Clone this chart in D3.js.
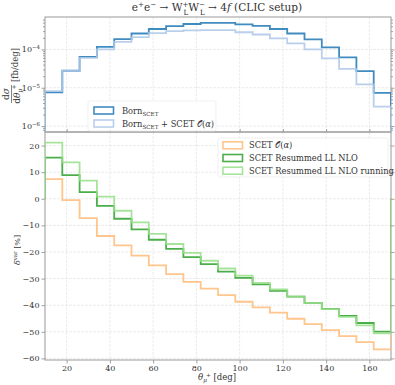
<!DOCTYPE html>
<html>
<head>
<meta charset="utf-8">
<script src="https://cdn.jsdelivr.net/npm/d3@7"></script>
<style>
  body { margin: 0; background: #fff; }
  svg text { font-family: "DejaVu Serif", "Liberation Serif", serif; fill: #333; }
</style>
</head>
<body>
<svg id="chart" width="395" height="385"></svg>
<script>
'use strict';

// bin edges of theta_mu+ [deg]
const edges = [10, 18, 26, 34, 42, 50, 58, 66, 74, 82, 90, 98, 106, 114, 122, 130, 138, 146, 154, 162, 170];

// top panel: d sigma / d theta [fb/deg]
const born = [7.6e-6, 2.77e-5, 6.4e-5, 1.17e-4, 1.85e-4, 2.6e-4, 3.4e-4, 4.05e-4, 4.6e-4, 4.9e-4,
              4.9e-4, 4.5e-4, 4.1e-4, 3.4e-4, 2.6e-4, 1.82e-4, 1.13e-4, 6.2e-5, 2.72e-5, 7.3e-6];
const bornScet = [8.2e-6, 2.75e-5, 6.0e-5, 1.0e-4, 1.58e-4, 2.1e-4, 2.65e-4, 3.0e-4, 3.15e-4, 3.2e-4,
                  3.2e-4, 2.8e-4, 2.45e-4, 1.93e-4, 1.43e-4, 1.0e-4, 5.8e-5, 3.1e-5, 1.22e-5, 3.2e-6];

// bottom panel: delta^var [%]
const scetOa = [7.4, -0.5, -7.3, -14.0, -17.5, -21.4, -25.0, -28.3, -31.2, -33.8,
                -36.2, -38.7, -40.8, -42.8, -45.1, -47.1, -49.4, -51.6, -53.9, -56.6];
const resumLL = [15.5, 8.9, 2.5, -2.7, -7.5, -11.5, -15.4, -18.8, -21.9, -24.6,
                 -27.4, -29.7, -32.2, -34.6, -36.8, -39.1, -41.4, -44.0, -46.7, -49.9];
const resumLLRun = [21.1, 13.7, 6.8, 0.8, -4.5, -8.9, -13.2, -17.0, -20.3, -23.3,
                    -26.2, -28.9, -31.6, -34.1, -36.8, -39.1, -41.5, -44.4, -47.6, -50.6];

const xTicks = [20, 40, 60, 80, 100, 120, 140, 160];
const decadeTicks = [1e-6, 1e-5, 1e-4];
const decadeExps = ['−6', '−5', '−4'];
const deltaTicks = [-60, -50, -40, -30, -20, -10, 0, 10, 20];

const COLORS = {
  born: '#1f77b4',
  bornScet: '#aec7e8',
  scetOa: '#ffbb78',
  resumLL: '#2ca02c',
  resumLLRun: '#98df8a'
};

const svg = d3.select('#chart');
const L = 45, R = 391;
const TOP = { y0: 17, y1: 132 };
const BOT = { y0: 132, y1: 360 };

const x = d3.scaleLinear().domain([10, 170]).range([L, R]);
const yTop = d3.scaleLog().domain([7e-7, 7e-4]).range([TOP.y1, TOP.y0]);
const yBot = d3.scaleLinear().domain([-60.6, 25.1]).range([BOT.y1, BOT.y0]);

const defs = svg.append('defs');
defs.append('clipPath').attr('id', 'clipTop').append('rect')
    .attr('x', L).attr('y', TOP.y0).attr('width', R - L).attr('height', TOP.y1 - TOP.y0);
defs.append('clipPath').attr('id', 'clipBot').append('rect')
    .attr('x', L).attr('y', BOT.y0).attr('width', R - L).attr('height', BOT.y1 - BOT.y0);

function stepPath(vals, y, base) {
  const pts = [[edges[0], base]];
  vals.forEach((v, i) => {
    pts.push([edges[i], v]);
    pts.push([edges[i + 1], v]);
  });
  pts.push([edges[edges.length - 1], base]);
  return d3.line().x(d => x(d[0])).y(d => y(d[1]))(pts);
}

// adds text built from pieces: {t, k: 'sup'|'sub', i: italic, dx}
function richText(g, pieces, size) {
  const txt = g.append('text').attr('font-size', size);
  let shift = 0;
  pieces.forEach(p => {
    const ts = txt.append('tspan').text(p.t);
    let target = 0;
    if (p.k === 'sup') target = -0.4 * size;
    if (p.k === 'sub') target = 0.25 * size;
    if (p.k === 'sub2') target = 0.35 * size;
    ts.attr('dy', target - shift);
    shift = target;
    if (p.k) ts.attr('font-size', size * 0.68);
    if (p.i) ts.attr('font-style', 'italic');
    if (p.dx) ts.attr('dx', p.dx);
  });
  return txt;
}

/***** GRID *****/
function drawGrid(y0, y1, yVals, yScale) {
  const g = svg.append('g').attr('stroke', '#e4e4e4').attr('stroke-width', 0.7)
               .attr('stroke-dasharray', '3,1');
  xTicks.forEach(v => g.append('line').attr('x1', x(v)).attr('x2', x(v)).attr('y1', y0).attr('y2', y1));
  yVals.forEach(v => g.append('line').attr('x1', L).attr('x2', R).attr('y1', yScale(v)).attr('y2', yScale(v)));
}
drawGrid(TOP.y0, TOP.y1, decadeTicks, yTop);
drawGrid(BOT.y0, BOT.y1, deltaTicks, yBot);

/***** AXES *****/
const tickColor = '#888';
function styleAxis(sel) {
  sel.select('.domain').remove();
  sel.selectAll('line').attr('stroke', tickColor).attr('stroke-width', 0.8);
  sel.selectAll('text').attr('fill', '#444').attr('font-size', 8);
}

// top panel y (log)
const minorTicks = [];
[1e-7, 1e-6, 1e-5, 1e-4].forEach(d => {
  for (let k = 2; k <= 9; k++) {
    const v = k * d;
    if (v > 7e-7 && v < 7e-4) minorTicks.push(v);
  }
});
svg.append('g').attr('transform', `translate(${L},0)`)
   .call(d3.axisLeft(yTop).tickValues(decadeTicks).tickSize(3.5).tickFormat(''))
   .call(styleAxis);
svg.append('g').attr('transform', `translate(${L},0)`)
   .call(d3.axisLeft(yTop).tickValues(minorTicks).tickSize(2).tickFormat(''))
   .call(styleAxis);
svg.append('g').attr('transform', `translate(${R},0)`)
   .call(d3.axisRight(yTop).tickValues(decadeTicks).tickSize(3.5).tickFormat(''))
   .call(styleAxis);
svg.append('g').attr('transform', `translate(${R},0)`)
   .call(d3.axisRight(yTop).tickValues(minorTicks).tickSize(2).tickFormat(''))
   .call(styleAxis);
decadeTicks.forEach((v, i) => {
  const g = svg.append('g').attr('transform', `translate(${L - 5},${yTop(v) + 3})`);
  richText(g, [{t: '10'}, {t: decadeExps[i], k: 'sup'}], 8)
    .attr('text-anchor', 'end').attr('fill', '#444');
});

// top panel x ticks (no labels)
svg.append('g').attr('transform', `translate(0,${TOP.y1})`)
   .call(d3.axisBottom(x).tickValues(xTicks).tickSize(-3).tickFormat(''))
   .call(styleAxis);

// bottom panel y
svg.append('g').attr('transform', `translate(${L},0)`)
   .call(d3.axisLeft(yBot).tickValues(deltaTicks).tickSize(3.5).tickPadding(2)
     .tickFormat(d => d < 0 ? '−' + Math.abs(d) : String(d)))
   .call(styleAxis);
svg.append('g').attr('transform', `translate(${R},0)`)
   .call(d3.axisRight(yBot).tickValues(deltaTicks).tickSize(3.5).tickFormat(''))
   .call(styleAxis);

// bottom panel x
svg.append('g').attr('transform', `translate(0,${BOT.y1})`)
   .call(d3.axisBottom(x).tickValues(xTicks).tickSize(3.5).tickPadding(2))
   .call(styleAxis);

/***** SPINES *****/
[TOP, BOT].forEach(p => {
  svg.append('rect').attr('x', L).attr('y', p.y0).attr('width', R - L).attr('height', p.y1 - p.y0)
     .attr('fill', 'none').attr('stroke', '#999').attr('stroke-width', 1);
});

/***** HISTOGRAMS *****/
const gTop = svg.append('g').attr('clip-path', 'url(#clipTop)');
[[born, COLORS.born], [bornScet, COLORS.bornScet]].forEach(([vals, c]) => {
  gTop.append('path').attr('d', stepPath(vals, yTop, 1e-9))
      .attr('fill', 'none').attr('stroke', c).attr('stroke-width', 1.8).attr('stroke-opacity', 0.85);
});

const gBot = svg.append('g').attr('clip-path', 'url(#clipBot)');
[[scetOa, COLORS.scetOa], [resumLL, COLORS.resumLL], [resumLLRun, COLORS.resumLLRun]].forEach(([vals, c]) => {
  gBot.append('path').attr('d', stepPath(vals, yBot, 0))
      .attr('fill', 'none').attr('stroke', c).attr('stroke-width', 1.8).attr('stroke-opacity', 0.85);
});

/***** LEGENDS *****/
function legend(x0, y0, w, h, items, boxX, textX, firstY, step) {
  svg.append('rect').attr('x', x0).attr('y', y0).attr('width', w).attr('height', h).attr('rx', 2)
     .attr('fill', '#fff').attr('fill-opacity', 0.85).attr('stroke', '#e6e6e6').attr('stroke-width', 0.6);
  items.forEach((it, i) => {
    const cy = firstY + i * step;
    svg.append('rect').attr('x', boxX).attr('y', cy - 3.5).attr('width', 19.5).attr('height', 7)
       .attr('fill', 'none').attr('stroke', it.color).attr('stroke-width', 1.6).attr('stroke-opacity', 0.85);
    const g = svg.append('g').attr('transform', `translate(${textX},${cy + 3})`);
    richText(g, it.text, 8.3);
  });
}

legend(88, 101, 128, 30, [
  {color: COLORS.born, text: [{t: 'Born'}, {t: 'SCET', k: 'sub'}]},
  {color: COLORS.bornScet, text: [{t: 'Born'}, {t: 'SCET', k: 'sub'}, {t: ' + SCET 𝒪('}, {t: 'α', i: true}, {t: ')'}]}
], 94, 122, 110.5, 13);

legend(218, 138, 170, 39, [
  {color: COLORS.scetOa, text: [{t: 'SCET 𝒪('}, {t: 'α', i: true}, {t: ')'}]},
  {color: COLORS.resumLL, text: [{t: 'SCET Resummed LL NLO'}]},
  {color: COLORS.resumLLRun, text: [{t: 'SCET Resummed LL NLO running'}]}
], 223, 249, 145.3, 12.7);

/***** LABELS *****/
// title
const gTitle = svg.append('g').attr('transform', 'translate(217,11)');
richText(gTitle, [
  {t: 'e'}, {t: '+', k: 'sup'}, {t: 'e'}, {t: '−', k: 'sup'},
  {t: ' → W'}, {t: '+', k: 'sup'}, {t: 'L', k: 'sub2', dx: -5},
  {t: 'W'}, {t: '−', k: 'sup'}, {t: 'L', k: 'sub2', dx: -5},
  {t: ' → 4'}, {t: 'f', i: true}, {t: ' (CLIC setup)'}
], 10.5).attr('text-anchor', 'middle');

// x label
const gX = svg.append('g').attr('transform', 'translate(217,380)');
richText(gX, [{t: 'θ', i: true}, {t: 'μ', k: 'sub', i: true}, {t: '+', k: 'sup', dx: -1}, {t: ' [deg]'}], 8.5)
  .attr('text-anchor', 'middle');

// top y label: fraction
const gYt = svg.append('g').attr('transform', 'translate(11,83) rotate(-90)');
gYt.append('text').attr('x', -11).attr('y', -2).attr('text-anchor', 'middle').attr('font-size', 9)
   .call(t => { t.append('tspan').text('d'); t.append('tspan').attr('font-style', 'italic').text('σ'); });
gYt.append('line').attr('x1', -20).attr('x2', -2).attr('y1', 0.5).attr('y2', 0.5)
   .attr('stroke', '#333').attr('stroke-width', 0.6);
const den = gYt.append('g').attr('transform', 'translate(-11,8.5)');
richText(den, [{t: 'd'}, {t: 'θ', i: true}, {t: 'μ', k: 'sub', i: true}, {t: '+', k: 'sup', dx: -1}], 9)
  .attr('text-anchor', 'middle');
gYt.append('text').attr('x', 1).attr('y', 6.5).attr('font-size', 8.5).text('[fb/deg]');

// bottom y label
const gYb = svg.append('g').attr('transform', 'translate(20,250) rotate(-90)');
richText(gYb, [{t: 'δ', i: true}, {t: 'var', k: 'sup'}, {t: ' [%]'}], 8).attr('text-anchor', 'middle');
</script>
</body>
</html>
